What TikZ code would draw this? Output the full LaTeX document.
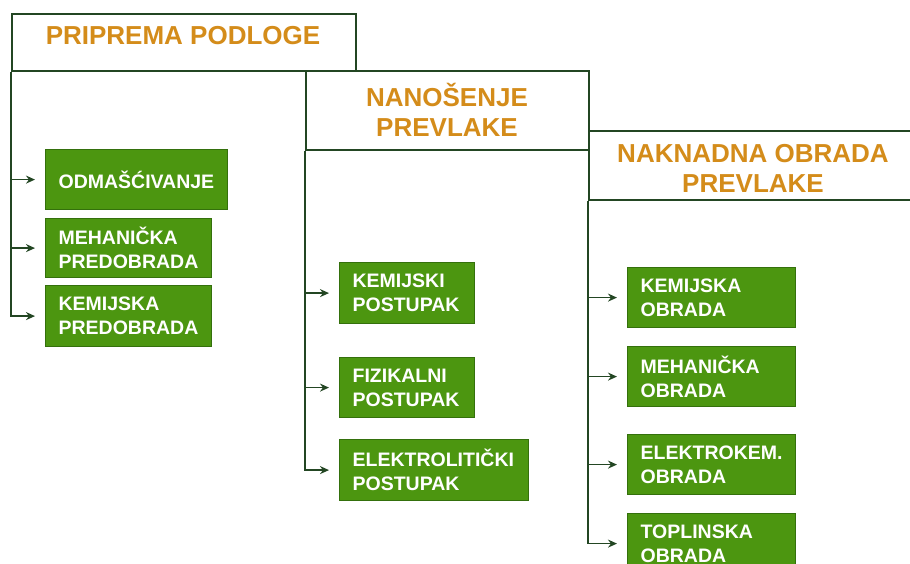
\documentclass[tikz,border=0pt]{standalone}
\usepackage{fontspec}
\setmainfont{Liberation Sans}
\usetikzlibrary{arrows.meta}
\definecolor{hdrtext}{RGB}{212,140,26}
\definecolor{boxgreen}{RGB}{76,150,16}
\definecolor{boxedge}{RGB}{52,112,12}
\definecolor{linecol}{RGB}{35,70,35}
\begin{document}
\begin{tikzpicture}[x=1pt,y=-1pt,
  hdr/.style={draw=linecol, line width=1.6pt, fill=white, anchor=north west, inner sep=0pt},
  hdrtxt/.style={text=hdrtext, font=\fontsize{26}{30}\selectfont\bfseries, align=center, inner sep=0pt},
  item/.style={draw=boxedge, line width=1.2pt, fill=boxgreen, anchor=north west,
    inner xsep=13pt, inner ysep=0pt, text=white,
    font=\fontsize{19.5}{24}\selectfont\bfseries, align=left},
  conn/.style={draw=linecol, line width=1.6pt, -{Stealth[length=9pt,width=8pt]}, shorten >=10pt}
]
\clip (0,0) rectangle (910,564);
\fill[white] (0,0) rectangle (910,564);

% headers
\node[hdr, minimum width=344pt, minimum height=57pt] (h1) at (11,13) {};
\node[hdr, minimum width=283pt, minimum height=79pt] (h2) at (305,70) {};
\node[hdr, minimum width=340pt, minimum height=69pt] (h3) at (588,130) {};
\node[hdrtxt] (t1) at (183,36) {PRIPREMA PODLOGE};
\node[hdrtxt] (t2) at (447,110) {NANOŠENJE\\PREVLAKE};
\node[hdrtxt] (t3) at (753,168) {NAKNADNA OBRADA\\PREVLAKE};

% column 1
\node[item, text width=156pt, minimum height=60pt] (b1) at (45,149) {ODMAŠĆIVANJE};
\node[item, text width=140pt, minimum height=59pt] (b2) at (45,218) {MEHANIČKA\\PREDOBRADA};
\node[item, text width=140pt, minimum height=61pt] (b3) at (45,285) {KEMIJSKA\\PREDOBRADA};

% column 2
\node[item, text width=109pt, minimum height=61pt] (c1) at (339,262) {KEMIJSKI\\POSTUPAK};
\node[item, text width=109pt, minimum height=60pt] (c2) at (339,357) {FIZIKALNI\\POSTUPAK};
\node[item, text width=163pt, minimum height=61pt] (c3) at (339,439) {ELEKTROLITIČKI\\POSTUPAK};

% column 3
\node[item, text width=142pt, minimum height=60pt] (d1) at (627,267) {KEMIJSKA\\OBRADA};
\node[item, text width=142pt, minimum height=60pt] (d2) at (627,346) {MEHANIČKA\\OBRADA};
\node[item, text width=142pt, minimum height=60pt] (d3) at (627,434) {ELEKTROKEM.\\OBRADA};
\node[item, text width=142pt, minimum height=60pt] (d4) at (627,513) {TOPLINSKA\\OBRADA};

% connectors
\draw[conn] (h1.south west) |- (b3.west);
\draw[conn] (h1.south west |- b1.west) -- (b1.west);
\draw[conn] (h1.south west |- b2.west) -- (b2.west);

\draw[conn] (h2.south west) |- (c3.west);
\draw[conn] (h2.south west |- c1.west) -- (c1.west);
\draw[conn] (h2.south west |- c2.west) -- (c2.west);

\draw[conn] (h3.south west) |- (d4.west);
\draw[conn] (h3.south west |- d1.west) -- (d1.west);
\draw[conn] (h3.south west |- d2.west) -- (d2.west);
\draw[conn] (h3.south west |- d3.west) -- (d3.west);
\end{tikzpicture}
\end{document}
